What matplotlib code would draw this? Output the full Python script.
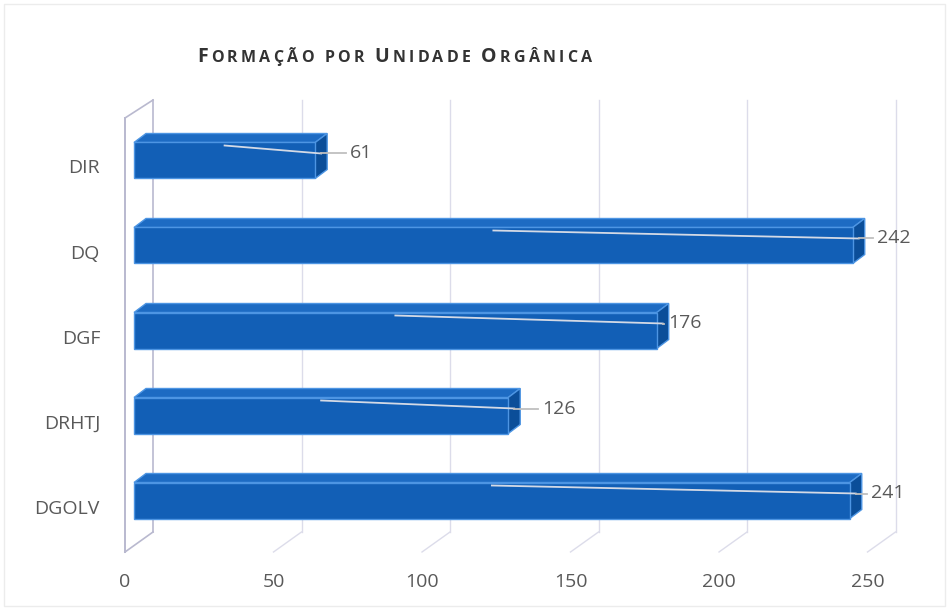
import numpy as np
import matplotlib.pyplot as plt
from matplotlib.patches import Polygon

categories = ['DIR', 'DQ', 'DGF', 'DRHTJ', 'DGOLV']
values = [61, 242, 176, 126, 241]
xticks = [0, 50, 100, 150, 200, 250]
title = 'Formação por Unidade Orgânica'

label_gap = [35, 24, 11, 34, 21]   # px between bar end and value label

W, H = 949, 610
plt.rcParams['font.family'] = ['Open Sans', 'DejaVu Sans']
fig = plt.figure(figsize=(W / 100, H / 100), dpi=100)
ax = fig.add_axes([0, 0, 1, 1])
ax.axis('off')

# pixel scale of the bar plane
px, py = 2.97, 85.0
x0, y0 = 134, 160.5
ax.set_xlim(-x0 / px, (W - x0) / px)
ax.set_ylim((H - y0) / py, -y0 / py)

def ux(p):
    return p / px

def uy(p):
    return p / py

# walls / gridlines
back_dx = ux(19)
front_dx = ux(-9)
wall_top = uy(100 - y0)
wall_bot = uy(532 - y0)
grid_c = '#dcdcea'
for t in xticks[1:]:
    ax.plot([t + back_dx, t + back_dx], [wall_top, wall_bot], color=grid_c, lw=1, zorder=1)
    ax.plot([t + back_dx, t + front_dx], [wall_bot, wall_bot + uy(20)], color=grid_c, lw=1, zorder=1)
wall_c = '#b9b9cf'
ax.plot([back_dx, back_dx], [wall_top, wall_bot], color=wall_c, lw=1.2, zorder=1)
ax.plot([front_dx, front_dx], [wall_top + uy(18), wall_bot + uy(20)], color=wall_c, lw=1.4, zorder=1)
ax.plot([front_dx, back_dx], [wall_top + uy(18), wall_top], color=wall_c, lw=1.2, zorder=1)
ax.plot([front_dx, back_dx], [wall_bot + uy(20), wall_bot], color=wall_c, lw=1.2, zorder=1)

# 3D bars
h = uy(18)
ddx, ddy = ux(12), uy(-9)
front_c, top_c, side_c, edge_c = '#125fb6', '#1d6bc3', '#0b4e99', '#4d95e3'
for i, v in enumerate(values):
    top = Polygon([(0, i - h), (v, i - h), (v + ddx, i - h + ddy), (ddx, i - h + ddy)],
                  fc=top_c, ec=edge_c, lw=1, zorder=3)
    side = Polygon([(v, i - h), (v + ddx, i - h + ddy), (v + ddx, i + h + ddy), (v, i + h)],
                   fc=side_c, ec=edge_c, lw=1, zorder=3)
    front = Polygon([(0, i - h), (v, i - h), (v, i + h), (0, i + h)],
                    fc=front_c, ec=edge_c, lw=1, zorder=4)
    for p in (top, side, front):
        ax.add_patch(p)
    # leader line + value label
    lx = v + ux(label_gap[i])
    ly = i - uy(7)
    ax.plot([v / 2, v + ddx / 2], [i - h + uy(3), ly], color='#d4dae6', lw=1.3, zorder=5)
    ax.plot([v + ddx / 2, lx - ux(4)], [ly, ly], color='#bfbfbf', lw=1.3, zorder=5)
    ax.text(lx, ly, str(v), ha='left', va='center', fontsize=14, color='#595959', zorder=6)
    ax.text(ux(100 - x0), i + uy(8), categories[i], ha='right', va='center',
            fontsize=14, color='#595959')

# x tick labels on the front plane
for t in xticks:
    ax.text(t + front_dx, uy(582 - y0), str(t), ha='center', va='center',
            fontsize=14, color='#595959')

# title in small caps with wide tracking
fig.canvas.draw()
r = fig.canvas.get_renderer()
pieces = [(ch.upper(), 14 if ch.isupper() else 11.5) for ch in title]
texts = []
widths = []
for ch, s in pieces:
    t = fig.text(0, 0, ch, fontsize=s, fontweight='bold', color='#333333')
    if ch == ' ':
        w = s * 0.25 * 100 / 72
    else:
        w = t.get_window_extent(r).width
    texts.append(t)
    widths.append(w)
x_start, x_end, base = 197, 592, 62
track = (x_end - x_start - sum(widths)) / (len(widths) - 1)
x = x_start
for t, w in zip(texts, widths):
    t.set_position((x / W, 1 - base / H))
    t.set_va('baseline')
    x += w + track

# faint chart border
fig.add_artist(plt.Rectangle((4 / W, 4 / H), 1 - 8 / W, 1 - 8 / H, transform=fig.transFigure,
                             fill=False, ec='#ececec', lw=1))

plt.savefig('out.png', dpi=100)
